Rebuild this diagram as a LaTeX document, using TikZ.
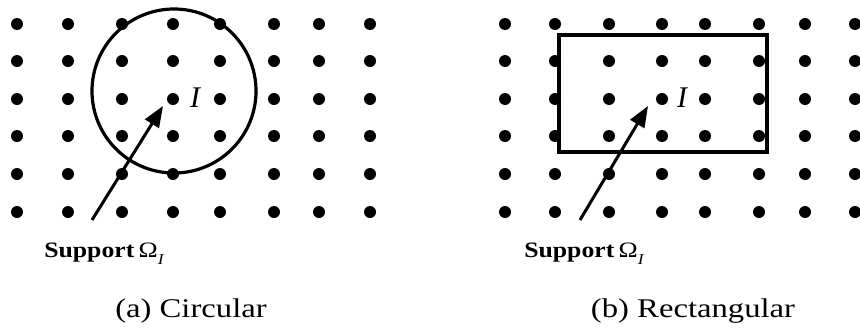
\documentclass[tikz,border=0pt]{standalone}
\usepackage{fontspec}
\setmainfont{Liberation Serif}
\usetikzlibrary{arrows.meta}
\newcommand{\suplabel}{\scalebox{1.17}[1]{\textbf{Support}\,Ω\raisebox{-0.3em}{\fontsize{15}{16}\selectfont\itshape I}}}
\begin{document}
\begin{tikzpicture}[x=1pt,y=-1pt,
  dot/.style={circle,fill=black,inner sep=0pt,minimum size=12pt},
  pointer/.style={line width=3pt,-{Triangle[length=21pt,width=16pt]}},
  frame/.style={draw,line width=3.2pt,inner sep=0pt},
  supp/.style={font=\fontsize{22}{23}\selectfont,anchor=center},
  capt/.style={font=\fontsize{27}{28}\selectfont,anchor=center},
  ilab/.style={font=\fontsize{30}{31}\selectfont\itshape,anchor=center}]
\useasboundingbox (0,0) rectangle (860,327);
% left grid
\foreach \x [count=\i] in {17,68,122,173,220,274,319,370}{
  \foreach \y [count=\j] in {24,61,99,136,174,212}{
    \node[dot] (a-\i-\j) at (\x,\y) {};
  }
}
% right grid
\foreach \x [count=\i] in {505,555,609,662,705,759,805,855}{
  \foreach \y [count=\j] in {24,61,99,136,174,212}{
    \node[dot] (b-\i-\j) at (\x,\y) {};
  }
}
% circular support
\node[frame,circle,minimum size=164pt] (circ) at (174,91) {};
\node[ilab] (ia) at (195,98) {I};
\coordinate (as) at (92,220);
\coordinate (ae) at (163,106);
\draw[pointer] (as) -- (ae);
\node[supp] (sa) at (104,254) {\suplabel};
\node[capt] (ca) at (191,311) {\scalebox{1.21}[1]{(a) Circular}};
% rectangular support
\node[frame,rectangle,minimum width=208pt,minimum height=117pt] (rect) at (663,93.5) {};
\node[ilab] (ib) at (682,98) {I};
\coordinate (bs) at (580,220);
\coordinate (be) at (648,106);
\draw[pointer] (bs) -- (be);
\node[supp] (sb) at (584,254) {\suplabel};
\node[capt] (cb) at (693,311) {\scalebox{1.21}[1]{(b) Rectangular}};
\end{tikzpicture}
\end{document}
